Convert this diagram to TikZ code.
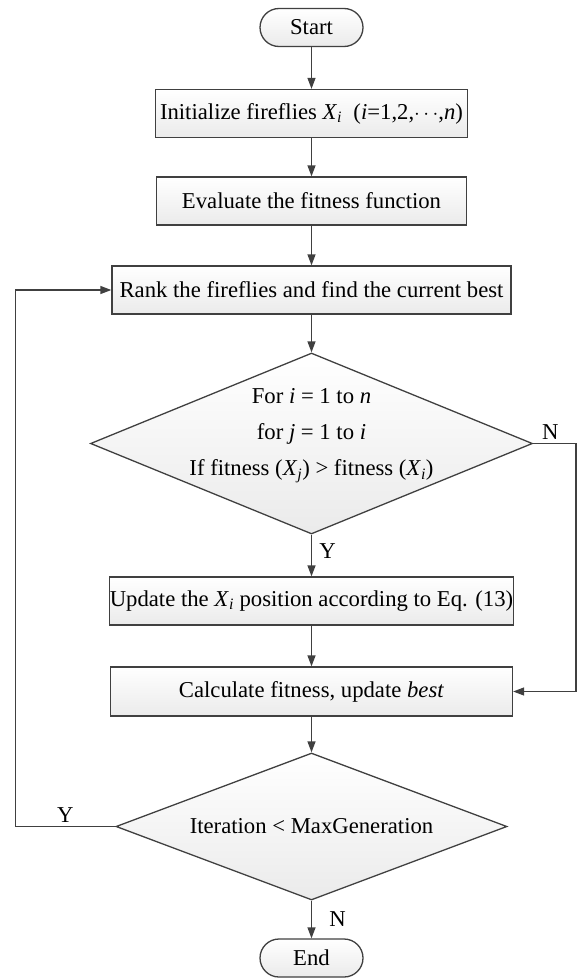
\documentclass[tikz,border=0pt]{standalone}
\usepackage{fontspec}
\setmainfont{Liberation Serif}
\usetikzlibrary{arrows.meta,shapes.geometric}
\newcommand{\Xsub}[1]{\textit{X}\textsubscript{\textit{#1}}}

\begin{document}
\begin{tikzpicture}[x=1pt,y=-1pt,>={Triangle[length=11pt,width=8pt]},
  font=\fontsize{22.7}{27}\selectfont,
  procbox/.style={rectangle,draw=black!75,line width=1.3pt,top color=white,bottom color=black!8,minimum height=48pt,inner sep=0pt},
  termbox/.style={procbox,rounded corners=19pt,minimum width=103pt,minimum height=38pt},
  decision/.style={diamond,draw=black!75,line width=1.3pt,top color=white,bottom color=black!8,inner sep=0pt},
  arr/.style={->,draw=black!75,line width=1.3pt}]
  \useasboundingbox (0,0) rectangle (577,979);
  % boxes down the middle
  \node[termbox] (start) at (311.5,27.5) {Start};
  \node[procbox,minimum width=312pt] (init) at (311.5,113.5) {Initialize fireflies \Xsub{i}\enspace(\textit{i}=1,2,$\cdots$,\textit{n})};
  \node[procbox,minimum width=310pt] (eval) at (311.5,201) {Evaluate the fitness function};
  \node[procbox,minimum width=399pt] (rank) at (311.5,290) {Rank the fireflies and find the current best};
  \node[decision,aspect=2.44,minimum width=442pt,minimum height=181pt] (cond) at (311.5,443.5)
    {\makebox[0pt]{\smash{\raisebox{4pt}{\begin{tabular}{@{}c@{}}For \textit{i} = 1 to \textit{n}\\[9pt]
      for \textit{j} = 1 to \textit{i}\\[9pt] If fitness (\Xsub{j}) > fitness (\Xsub{i})\end{tabular}}}}};
  \node[procbox,minimum width=402pt] (upd) at (311.5,601) {Update the \Xsub{i} position according to Eq. (13)};
  \node[procbox,minimum width=402pt,minimum height=49pt] (calc) at (311.5,691.5) {Calculate fitness, update \textit{best}};
  \node[decision,aspect=2.66,minimum width=391pt,minimum height=147pt] (iter) at (311.5,826.5) {Iteration < MaxGeneration};
  \node[termbox] (stop) at (311.5,958) {End};
  \coordinate (loopR) at (576,443.5);
  \coordinate (loopL) at (15.5,826.5);
  % connectors
  \draw[arr] (start) -- (init);
  \draw[arr] (init) -- (eval);
  \draw[arr] (eval) -- (rank);
  \draw[arr] (rank) -- (cond);
  \draw[arr] (cond) -- node[pos=.4,right=4pt] {Y} (upd);
  \draw[arr] (upd) -- (calc);
  \draw[arr] (calc) -- (iter);
  \draw[arr] (iter) -- node[right=14pt] {N} (stop);
  \draw[arr] (cond.east) -- node[pos=.4,above] {N} (loopR) |- (calc.east);
  \draw[arr] (iter.west) -- node[above] {Y} (loopL) |- (rank.west);
\end{tikzpicture}
\end{document}
